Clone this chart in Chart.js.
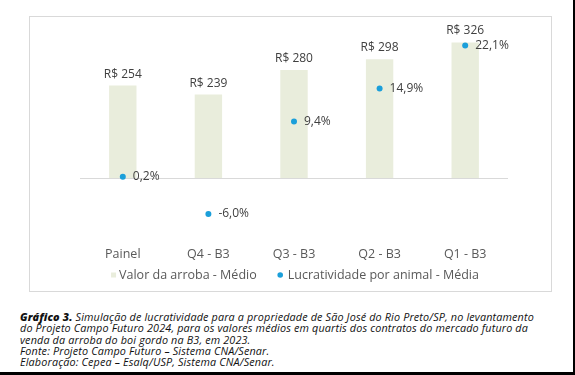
<!DOCTYPE html>
<html>
<head>
<meta charset="utf-8">
<script src="https://cdn.jsdelivr.net/npm/chart.js@4.4.0/dist/chart.umd.min.js"></script>
<style>
  body { margin: 0; background: #fff; }
  #page { position: relative; width: 575px; height: 375px; overflow: hidden; background: #fff; }
  #frame { position: absolute; left: 29px; top: 16px; width: 523px; height: 276px; border: 1px solid #d9d9d9; box-sizing: border-box; }
  #caption { position: absolute; left: 20px; top: 311px; font-family: "Open Sans", sans-serif; font-style: italic; font-size: 10.8px; letter-spacing: 0.15px; line-height: 11.3px; color: #111; white-space: nowrap; }
  #caption b { font-weight: 800; }
  #edgeRight { position: absolute; left: 573px; top: 0; width: 2px; height: 375px; background: #000; }
  #edgeBottom { position: absolute; left: 0; top: 372px; width: 575px; height: 3px; background: #000; }
</style>
</head>
<body>
<div id="page">
  <div id="frame"><canvas id="chart" width="521" height="274"></canvas></div>
  <div id="caption">
    <b>Gráfico 3.</b> Simulação de lucratividade para a propriedade de São José do Rio Preto/SP, no levantamento<br>
    do Projeto Campo Futuro 2024, para os valores médios em quartis dos contratos do mercado futuro da<br>
    venda da arroba do boi gordo na B3, em 2023.<br>
    Fonte: Projeto Campo Futuro – Sistema CNA/Senar.<br>
    Elaboração: Cepea – Esalq/USP, Sistema CNA/Senar.
  </div>
  <div id="edgeRight"></div>
  <div id="edgeBottom"></div>
</div>
<script>
const categorias = ['Painel', 'Q4 - B3', 'Q3 - B3', 'Q2 - B3', 'Q1 - B3'];
const valorArroba = [254, 239, 280, 298, 326];        // R$/@
const lucratividade = [0.2, -6.0, 9.4, 14.9, 22.1];  // %

const FONT = '"Open Sans", sans-serif';
const COR_BARRA = '#e9eddc';
const COR_PONTO = '#1b9fda';

// faint line at 0% on the right axis
const zeroLine = {
  id: 'zeroLine',
  beforeDatasetsDraw(chart) {
    const { ctx, chartArea, scales } = chart;
    const y = Math.round(scales.y1.getPixelForValue(0)) + 0.5;
    ctx.save();
    ctx.strokeStyle = '#d9d9d9';
    ctx.lineWidth = 1;
    ctx.beginPath();
    ctx.moveTo(chartArea.left, y);
    ctx.lineTo(chartArea.right, y);
    ctx.stroke();
    ctx.restore();
  }
};

// value labels above bars and next to the points
const valueLabels = {
  id: 'valueLabels',
  afterDatasetsDraw(chart) {
    const ctx = chart.ctx;
    ctx.save();
    ctx.font = '12px ' + FONT;
    ctx.fillStyle = '#404040';
    chart.getDatasetMeta(0).data.forEach((bar, i) => {
      ctx.textAlign = 'center';
      ctx.textBaseline = 'alphabetic';
      ctx.fillText('R$ ' + valorArroba[i], bar.x, bar.y - 8);
    });
    chart.getDatasetMeta(1).data.forEach((pt, i) => {
      ctx.textAlign = 'left';
      ctx.textBaseline = 'middle';
      ctx.fillText(lucratividade[i].toFixed(1).replace('.', ',') + '%', pt.x + 10, pt.y);
    });
    ctx.restore();
  }
};

// small legend under the category labels (tight spacing like the original)
const legendBelow = {
  id: 'legendBelow',
  afterDraw(chart) {
    const { ctx, chartArea } = chart;
    const items = chart.data.datasets.map(ds => ({ text: ds.label, color: ds.backgroundColor, style: ds.pointStyle }));
    ctx.save();
    ctx.font = '12.5px ' + FONT;
    const box = 5, gapText = 3, gapItem = 21;
    const widths = items.map(it => box + gapText + ctx.measureText(it.text).width);
    const total = widths.reduce((a, b) => a + b, 0) + gapItem * (items.length - 1);
    let x = (chartArea.left + chartArea.right) / 2 - total / 2;
    const y = chartArea.bottom + 37;
    items.forEach((it, i) => {
      ctx.fillStyle = it.color;
      if (it.style === 'circle') {
        ctx.beginPath();
        ctx.arc(x + box / 2, y, box / 2 + 0.3, 0, Math.PI * 2);
        ctx.fill();
      } else {
        ctx.fillRect(x, y - box / 2, box, box);
      }
      ctx.fillStyle = '#595959';
      ctx.textAlign = 'left';
      ctx.textBaseline = 'middle';
      ctx.fillText(it.text, x + box + gapText + (it.style === 'circle' ? 2 : 0), y);
      x += widths[i] + gapItem;
    });
    ctx.restore();
  }
};

new Chart(document.getElementById('chart'), {
  type: 'bar',
  data: {
    labels: categorias,
    datasets: [
      {
        label: 'Valor da arroba - Médio',
        data: valorArroba,
        yAxisID: 'y',
        base: 100,
        backgroundColor: COR_BARRA,
        categoryPercentage: 0.32,
        barPercentage: 1,
        pointStyle: 'rect',
        order: 2,
      },
      {
        type: 'line',
        label: 'Lucratividade por animal - Média',
        data: lucratividade,
        yAxisID: 'y1',
        showLine: false,
        pointRadius: 3,
        pointBackgroundColor: COR_PONTO,
        pointBorderWidth: 0,
        backgroundColor: COR_PONTO,
        borderColor: COR_PONTO,
        pointStyle: 'circle',
        order: 1,
      },
    ],
  },
  options: {
    responsive: false,
    animation: false,
    layout: { padding: { left: 50, right: 43, top: 11, bottom: 20 } },
    scales: {
      x: {
        grid: { display: false, drawTicks: false },
        border: { display: false },
        ticks: { color: '#595959', font: { family: FONT, size: 12.5 }, padding: 9 },
      },
      y: { display: false, min: 0, max: 350 },
      y1: { display: false, min: -10, max: 25 },
    },
    plugins: {
      legend: { display: false },
      tooltip: { enabled: false },
    },
  },
  plugins: [zeroLine, valueLabels, legendBelow],
});
</script>
</body>
</html>
